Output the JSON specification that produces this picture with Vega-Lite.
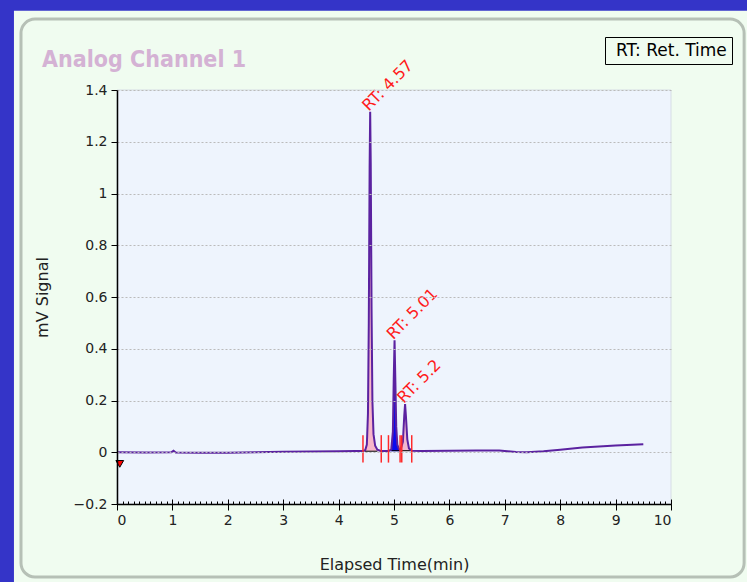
{
  "$schema": "https://vega.github.io/schema/vega-lite/v6.json",
  "width": 554,
  "height": 414,
  "autosize": {"type": "none"},
  "padding": {"left": 117, "top": 90, "right": 76, "bottom": 78},
  "background": "#3434c8",
  "title": {"text": "Analog Channel 1", "anchor": "start", "frame": "group", "dx": -75, "dy": 96, "offset": 17, "baseline": "alphabetic", "font": "DejaVu Sans Condensed, Liberation Sans", "fontSize": 23, "fontWeight": "bold", "color": "#d4b2d4"},
  "config": {"view": {"stroke": null, "fill": null}, "font": "DejaVu Sans"},
  "data": {"values": [{}]},
  "datasets": {
    "signal": [
      {"t": 0, "mv": 0.0},
      {"t": 0.5, "mv": -0.001},
      {"t": 0.98, "mv": 0.0},
      {"t": 1.02, "mv": 0.006},
      {"t": 1.06, "mv": -0.001},
      {"t": 1.5, "mv": -0.002},
      {"t": 2.0, "mv": -0.002},
      {"t": 2.5, "mv": 0.0},
      {"t": 3.0, "mv": 0.002},
      {"t": 3.5, "mv": 0.003},
      {"t": 4.0, "mv": 0.004},
      {"t": 4.3, "mv": 0.005},
      {"t": 4.44, "mv": 0.005, "peak": "p1"},
      {"t": 4.48, "mv": 0.008, "peak": "p1"},
      {"t": 4.51, "mv": 0.03, "peak": "p1"},
      {"t": 4.53, "mv": 0.15, "peak": "p1"},
      {"t": 4.545, "mv": 0.5, "peak": "p1"},
      {"t": 4.56, "mv": 1.1, "peak": "p1"},
      {"t": 4.57, "mv": 1.316, "peak": "p1"},
      {"t": 4.58, "mv": 1.12, "peak": "p1"},
      {"t": 4.595, "mv": 0.55, "peak": "p1"},
      {"t": 4.61, "mv": 0.2, "peak": "p1"},
      {"t": 4.63, "mv": 0.07, "peak": "p1"},
      {"t": 4.66, "mv": 0.025, "peak": "p1"},
      {"t": 4.7, "mv": 0.01, "peak": "p1"},
      {"t": 4.76, "mv": 0.005, "peak": "p1"},
      {"t": 4.83, "mv": 0.005},
      {"t": 4.9, "mv": 0.005, "peak": "p2"},
      {"t": 4.95, "mv": 0.01, "peak": "p2"},
      {"t": 4.98, "mv": 0.08, "peak": "p2"},
      {"t": 4.995, "mv": 0.28, "peak": "p2"},
      {"t": 5.01, "mv": 0.433, "peak": "p2"},
      {"t": 5.025, "mv": 0.27, "peak": "p2"},
      {"t": 5.04, "mv": 0.1, "peak": "p2"},
      {"t": 5.06, "mv": 0.03, "peak": "p2"},
      {"t": 5.09, "mv": 0.012, "peak": "p2"},
      {"t": 5.11, "mv": 0.01, "peak": "p2"},
      {"t": 5.12, "mv": 0.011, "peak": "p3"},
      {"t": 5.16, "mv": 0.04, "peak": "p3"},
      {"t": 5.185, "mv": 0.14, "peak": "p3"},
      {"t": 5.2, "mv": 0.186, "peak": "p3"},
      {"t": 5.215, "mv": 0.14, "peak": "p3"},
      {"t": 5.24, "mv": 0.05, "peak": "p3"},
      {"t": 5.27, "mv": 0.015, "peak": "p3"},
      {"t": 5.32, "mv": 0.006, "peak": "p3"},
      {"t": 5.5, "mv": 0.005},
      {"t": 6.0, "mv": 0.006},
      {"t": 6.5, "mv": 0.007},
      {"t": 6.9, "mv": 0.007},
      {"t": 7.05, "mv": 0.004},
      {"t": 7.2, "mv": 0.001},
      {"t": 7.4, "mv": 0.0},
      {"t": 7.7, "mv": 0.004},
      {"t": 8.0, "mv": 0.01},
      {"t": 8.4, "mv": 0.018},
      {"t": 9.0, "mv": 0.026},
      {"t": 9.5, "mv": 0.031}
    ],
    "segments": [
      {"start": 4.47, "end": 4.7, "level": 0.004},
      {"start": 4.95, "end": 5.1, "level": 0.006},
      {"start": 5.12, "end": 5.3, "level": 0.006}
    ],
    "rt": [
      {"t": 4.44, "legend": "RT: Ret. Time"},
      {"t": 4.77, "legend": "RT: Ret. Time"},
      {"t": 4.9, "legend": "RT: Ret. Time"},
      {"t": 5.11, "legend": "RT: Ret. Time"},
      {"t": 5.14, "legend": "RT: Ret. Time"},
      {"t": 5.32, "legend": "RT: Ret. Time"}
    ],
    "peaks": [
      {"rt": 4.57, "height": 1.316, "label": "RT: 4.57"},
      {"rt": 5.01, "height": 0.433, "label": "RT: 5.01"},
      {"rt": 5.2, "height": 0.186, "label": "RT: 5.2"}
    ]
  },
  "layer": [
    {
      "mark": {"type": "rect", "fill": "#f0fcf0"},
      "encoding": {
        "x": {"datum": -1.86, "type": "quantitative", "scale": {"domain": [0, 10], "nice": false, "zero": false}, "axis": null},
        "x2": {"datum": 11.5},
        "y": {"datum": 1.706, "type": "quantitative", "scale": {"domain": [-0.2, 1.4], "nice": false, "zero": false}},
        "y2": {"datum": -0.6}
      }
    },
    {
      "mark": {"type": "rect", "fill": "#f0fcf0", "fillOpacity": 0, "stroke": "#b6c0b6", "strokeWidth": 3, "cornerRadius": 14},
      "encoding": {
        "x": {"datum": -1.733, "type": "quantitative", "scale": {"domain": [0, 10], "nice": false, "zero": false}, "axis": null},
        "x2": {"datum": 11.32},
        "y": {"datum": 1.674, "type": "quantitative", "scale": {"domain": [-0.2, 1.4], "nice": false, "zero": false}},
        "y2": {"datum": -0.482}
      }
    },
    {
      "mark": {"type": "rect", "fill": "#eef4fd", "stroke": "#d6dde4", "strokeWidth": 1},
      "encoding": {
        "x": {"datum": 0, "type": "quantitative", "scale": {"domain": [0, 10], "nice": false, "zero": false}, "axis": null},
        "x2": {"datum": 10},
        "y": {"datum": -0.2, "type": "quantitative", "scale": {"domain": [-0.2, 1.4], "nice": false, "zero": false}},
        "y2": {"datum": 1.4}
      }
    },
    {
      "data": {"name": "signal"},
      "transform": [{"filter": "datum.peak != null"}],
      "mark": {"type": "area", "interpolate": "linear", "opacity": 1},
      "encoding": {
        "x": {"field": "t", "type": "quantitative", "scale": {"domain": [0, 10], "nice": false, "zero": false}, "axis": null},
        "y": {"field": "mv", "type": "quantitative", "scale": {"domain": [-0.2, 1.4], "nice": false, "zero": false}},
        "y2": {"datum": 0.004},
        "fill": {"field": "peak", "type": "nominal", "scale": {"domain": ["p1", "p2", "p3"], "range": ["#f7b6c9", "#0a0aee", "#f2b8d0"]}, "legend": null}
      }
    },
    {
      "data": {"name": "segments"},
      "mark": {"type": "rule", "color": "#000", "strokeWidth": 1},
      "encoding": {
        "x": {"field": "start", "type": "quantitative", "scale": {"domain": [0, 10], "nice": false, "zero": false},
          "axis": {"orient": "bottom", "values": [0, 1, 2, 3, 4, 5, 6, 7, 8, 9, 10], "tickSize": -5, "tickColor": "#000", "labels": false, "domain": false, "grid": false, "title": null, "zindex": 1}},
        "x2": {"field": "end"},
        "y": {"field": "level", "type": "quantitative", "scale": {"domain": [-0.2, 1.4], "nice": false, "zero": false}}
      }
    },
    {
      "data": {"name": "signal"},
      "mark": {"type": "line", "stroke": "#5b22a0", "strokeWidth": 2, "interpolate": "linear"},
      "encoding": {
        "x": {"field": "t", "type": "quantitative", "scale": {"domain": [0, 10], "nice": false, "zero": false},
          "axis": {"orient": "bottom", "values": [0, 1, 2, 3, 4, 5, 6, 7, 8, 9, 10], "title": "Elapsed Time(min)", "tickSize": 6, "tickColor": "#000", "domainColor": "#000", "domainWidth": 1.5, "grid": false, "labelFont": "DejaVu Sans", "labelFontSize": 14, "labelColor": "#222", "labelPadding": 3, "titleFont": "DejaVu Sans", "titleFontSize": 16, "titleFontWeight": "normal", "titleColor": "#222", "titlePadding": 29, "zindex": 1}},
        "y": {"field": "mv", "type": "quantitative", "scale": {"domain": [-0.2, 1.4], "nice": false, "zero": false},
          "axis": {"values": [-0.2, 0, 0.2, 0.4, 0.6, 0.8, 1, 1.2, 1.4], "format": "~g", "title": "mV Signal", "grid": true, "gridColor": "#bbbbbb", "gridDash": [2, 2], "gridWidth": 1, "tickSize": 6, "tickColor": "#000", "domainColor": "#000", "domainWidth": 1.5, "labelFont": "DejaVu Sans", "labelFontSize": 14, "labelColor": "#222", "labelPadding": 4, "titleFont": "DejaVu Sans", "titleFontSize": 16, "titleFontWeight": "normal", "titleColor": "#222", "titlePadding": 23, "zindex": 1}}
      }
    },
    {
      "data": {"name": "rt"},
      "mark": {"type": "rule", "strokeWidth": 1.5},
      "encoding": {
        "x": {"field": "t", "type": "quantitative", "scale": {"domain": [0, 10], "nice": false, "zero": false},
          "axis": {"orient": "bottom", "values": [0, 0.1, 0.2, 0.3, 0.4, 0.5, 0.6, 0.7, 0.8, 0.9, 1, 1.1, 1.2, 1.3, 1.4, 1.5, 1.6, 1.7, 1.8, 1.9, 2, 2.1, 2.2, 2.3, 2.4, 2.5, 2.6, 2.7, 2.8, 2.9, 3, 3.1, 3.2, 3.3, 3.4, 3.5, 3.6, 3.7, 3.8, 3.9, 4, 4.1, 4.2, 4.3, 4.4, 4.5, 4.6, 4.7, 4.8, 4.9, 5, 5.1, 5.2, 5.3, 5.4, 5.5, 5.6, 5.7, 5.8, 5.9, 6, 6.1, 6.2, 6.3, 6.4, 6.5, 6.6, 6.7, 6.8, 6.9, 7, 7.1, 7.2, 7.3, 7.4, 7.5, 7.6, 7.7, 7.8, 7.9, 8, 8.1, 8.2, 8.3, 8.4, 8.5, 8.6, 8.7, 8.8, 8.9, 9, 9.1, 9.2, 9.3, 9.4, 9.5, 9.6, 9.7, 9.8, 9.9, 10], "tickSize": -3, "tickColor": "#000", "labels": false, "domain": false, "grid": false, "title": null, "zindex": 1}},
        "y": {"datum": -0.04, "type": "quantitative", "scale": {"domain": [-0.2, 1.4], "nice": false, "zero": false}},
        "y2": {"datum": 0.066},
        "stroke": {"field": "legend", "type": "nominal", "scale": {"range": ["#ff2a2a"]},
          "legend": {"title": null, "orient": "none", "legendX": 488, "legendY": -53, "fillColor": "#f0fcf0", "strokeColor": "#000", "padding": 5, "labelFont": "DejaVu Sans", "labelFontSize": 17, "labelColor": "#000", "symbolSize": 0, "symbolStrokeWidth": 0, "symbolOpacity": 0, "labelOffset": -11, "cornerRadius": 0}}
      }
    },
    {
      "data": {"name": "peaks"},
      "mark": {"type": "text", "angle": 315, "align": "left", "baseline": "alphabetic", "dx": -1, "dy": -1, "font": "DejaVu Sans", "fontSize": 16, "color": "#ff1a1a"},
      "encoding": {
        "x": {"field": "rt", "type": "quantitative", "scale": {"domain": [0, 10], "nice": false, "zero": false}, "axis": null},
        "y": {"field": "height", "type": "quantitative", "scale": {"domain": [-0.2, 1.4], "nice": false, "zero": false}},
        "text": {"field": "label"}
      }
    },
    {
      "mark": {"type": "point", "shape": "triangle-down", "filled": true, "fill": "#ff0000", "stroke": "#000", "strokeWidth": 1, "size": 60, "opacity": 1},
      "encoding": {
        "x": {"datum": 0.05, "type": "quantitative", "scale": {"domain": [0, 10], "nice": false, "zero": false}, "axis": null},
        "y": {"datum": -0.045, "type": "quantitative", "scale": {"domain": [-0.2, 1.4], "nice": false, "zero": false}}
      }
    }
  ],
  "resolve": {"axis": {"x": "independent"}}
}
